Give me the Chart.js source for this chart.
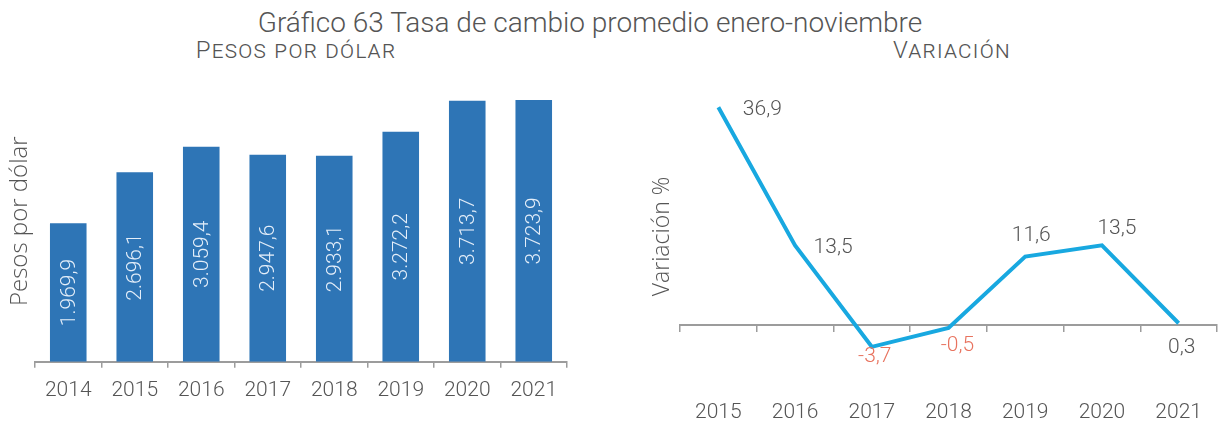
<!DOCTYPE html>
<html>
<head>
<meta charset="utf-8">
<script src="https://cdn.jsdelivr.net/npm/chart.js@4.4.0/dist/chart.umd.min.js"></script>
<style>
  html, body { margin:0; padding:0; background:#ffffff; }
  body { width:1220px; height:423px; position:relative; overflow:hidden; font-family: Roboto, "Open Sans", sans-serif; font-weight:300; color:#555; }
  #title { position:absolute; left:0; width:1180px; top:7px; text-align:center; font-size:28px; line-height:32px; color:#555; white-space:nowrap; }
  .sub { position:absolute; top:36px; width:300px; text-align:center; font-size:24px; line-height:28px; font-variant:small-caps; letter-spacing:1.3px; color:#555; white-space:nowrap; }
  #sub1 { left:146px; }
  #sub2 { left:802px; }
  #w1 { position:absolute; left:0; top:70px; width:600px; height:353px; }
  #w2 { position:absolute; left:610px; top:70px; width:610px; height:353px; }
</style>
</head>
<body>
<div id="title">Gráfico 63 Tasa de cambio promedio enero-noviembre</div>
<div class="sub" id="sub1">Pesos por dólar</div>
<div class="sub" id="sub2">Variación</div>
<div id="w1"><canvas id="c1" width="600" height="353"></canvas></div>
<div id="w2"><canvas id="c2" width="610" height="353"></canvas></div>
<script>
// ---- data ----
const barYears = ['2014', '2015', '2016', '2017', '2018', '2019', '2020', '2021'];
const pesosPorDolar = [1969.9, 2696.1, 3059.4, 2947.6, 2933.1, 3272.2, 3713.7, 3723.9];
const varYears = ['2015', '2016', '2017', '2018', '2019', '2020', '2021'];
const variacion = [36.9, 13.5, -3.7, -0.5, 11.6, 13.5, 0.3];

// ---- style ----
const FONT = 'Roboto';
const TITLE_FONT = '"Open Sans"';
const TXT = '#555555';
const AXIS = '#9c9c9c';
const BAR = '#2e75b6';
const LINE = '#18a8e0';
const NEG = '#e8735f';
// label offsets (dx, dy) relative to each line point
const labelOffsets = [[44, 2], [38, 2], [3, 10], [9, 18], [6, -21], [15, -17], [3, 25]];

function fmtEs(v, thousands) {
  const neg = v < 0;
  let s = Math.abs(v).toFixed(1);
  let [i, d] = s.split('.');
  if (thousands) i = i.replace(/\B(?=(\d{3})+(?!\d))/g, '.');
  return (neg ? '-' : '') + i + ',' + d;
}

Chart.defaults.font.family = FONT;
Chart.defaults.font.weight = '300';
Chart.defaults.color = TXT;

const barLabels = {
  id: 'barLabels',
  afterDatasetsDraw(chart) {
    const ctx = chart.ctx;
    const meta = chart.getDatasetMeta(0);
    const data = chart.data.datasets[0].data;
    ctx.save();
    ctx.fillStyle = '#e4eef9';
    ctx.font = '300 21px ' + FONT;
    ctx.textAlign = 'center';
    ctx.textBaseline = 'middle';
    meta.data.forEach((el, i) => {
      const cx = el.x, cy = (el.y + el.base) / 2;
      ctx.save();
      ctx.translate(cx, cy);
      ctx.rotate(-Math.PI / 2);
      ctx.fillText(fmtEs(data[i], true), 0, 1);
      ctx.restore();
    });
    ctx.restore();
  }
};

const lineLabels = {
  id: 'lineLabels',
  afterDatasetsDraw(chart) {
    const ctx = chart.ctx;
    const meta = chart.getDatasetMeta(0);
    const data = chart.data.datasets[0].data;
    ctx.save();
    ctx.font = '300 21px ' + FONT;
    ctx.textAlign = 'center';
    ctx.textBaseline = 'middle';
    meta.data.forEach((el, i) => {
      const off = labelOffsets[i];
      ctx.fillStyle = data[i] < 0 ? NEG : TXT;
      ctx.fillText(fmtEs(data[i], false), el.x + off[0], el.y + off[1]);
    });
    ctx.restore();
  }
};

new Chart(document.getElementById('c1'), {
  type: 'bar',
  data: {
    labels: barYears,
    datasets: [{ data: pesosPorDolar, backgroundColor: BAR, barPercentage: 0.55, categoryPercentage: 1.0 }]
  },
  options: {
    responsive: false, animation: false, devicePixelRatio: 1,
    layout: { padding: { top: 10.7, right: 33, left: 0, bottom: 0 } },
    plugins: { legend: { display: false }, tooltip: { enabled: false } },
    scales: {
      x: {
        grid: { display: true, drawOnChartArea: false, drawTicks: true, tickLength: 6, color: AXIS, lineWidth: 1.5, offset: true },
        border: { display: true, color: AXIS, width: 2 },
        ticks: { font: { size: 21, weight: '300' }, color: TXT, padding: 10 },
        afterFit: s => { s.height = 61.3; }
      },
      y: {
        min: 0, max: 4000,
        ticks: { display: false },
        grid: { display: false },
        border: { display: false },
        title: { display: true, text: 'Pesos por dólar', font: { family: TITLE_FONT, size: 24, weight: '300' }, color: TXT, padding: { top: 6, bottom: 0 } },
        afterFit: s => { s.width = 35; }
      }
    }
  },
  plugins: [barLabels]
});

new Chart(document.getElementById('c2'), {
  type: 'line',
  data: {
    labels: varYears,
    datasets: [{ data: variacion, borderColor: LINE, borderWidth: 4, pointRadius: 0, tension: 0, fill: false }]
  },
  options: {
    responsive: false, animation: false, devicePixelRatio: 1,
    layout: { padding: { top: 19, right: 3, left: 0, bottom: 0 } },
    plugins: { legend: { display: false }, tooltip: { enabled: false } },
    scales: {
      x: {
        position: 'bottom',
        offset: true,
        grid: { display: false, drawTicks: true, tickLength: 6 },
        border: { display: false },
        ticks: { font: { size: 21, weight: '300' }, color: TXT, padding: 10 },
        afterFit: s => { s.height = 39; }
      },
      x2: {
        type: 'category',
        position: { y: 0 },
        offset: true,
        grid: { display: true, drawOnChartArea: false, drawTicks: true, tickLength: 6, color: AXIS, lineWidth: 1.5, offset: true },
        border: { display: true, color: AXIS, width: 2 },
        ticks: { display: false }
      },
      y: {
        min: -10, max: 40,
        ticks: { display: false },
        grid: { display: false },
        border: { display: false },
        title: { display: true, text: 'Variación %', font: { family: TITLE_FONT, size: 23, weight: '300' }, color: TXT, padding: { top: 39, bottom: 0 } },
        afterFit: s => { s.width = 70; }
      }
    }
  },
  plugins: [lineLabels]
});
</script>
</body>
</html>
